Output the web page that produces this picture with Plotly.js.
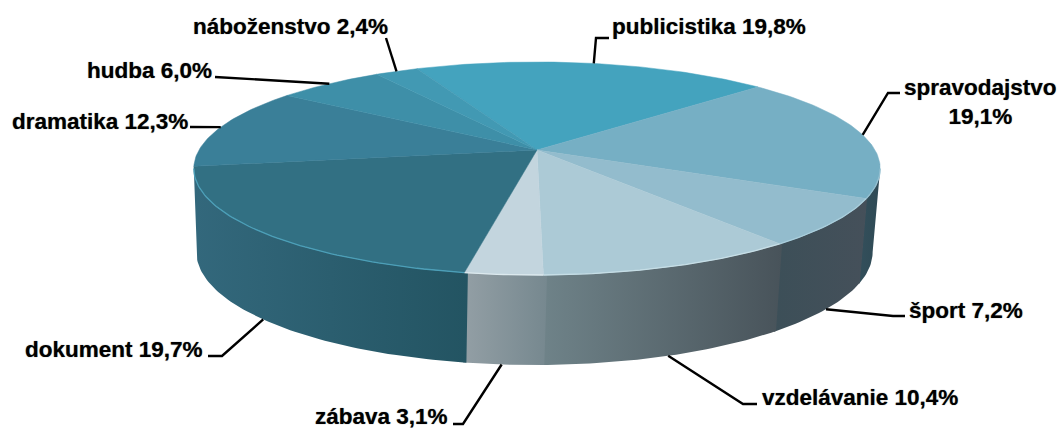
<!DOCTYPE html>
<html>
<head>
<meta charset="utf-8">
<script src="https://cdn.plot.ly/plotly-3.0.1.min.js"></script>
<style>html,body{margin:0;padding:0;background:#fff;overflow:hidden}#chart{width:1059px;height:428px}</style>
</head>
<body>
<div id="chart"></div>
<script>
// ---- data, clockwise from the first slice ----
const categories = ['publicistika','spravodajstvo','šport','vzdelávanie','zábava','dokument','dramatika','hudba','náboženstvo'];
const shares = [19.8,19.1,7.2,10.4,3.1,19.7,12.3,6.0,2.4];
const shareLabels = ['19,8%','19,1%','7,2%','10,4%','3,1%','19,7%','12,3%','6,0%','2,4%'];

// ---- styles ----
const topColors = ['#44A3BE','#76AFC4','#93BCCD','#ACCAD6','#C3D5DE','#327083','#3A7F98','#3E8FA8','#4299B3'];
const wallLeft  = ['#333','#334F5B','#3C4F58','#6F8389','#939FA5','#33687C','#33687C','#333','#333'];
const wallRight = ['#333','#2F4A55','#45505A','#48535A','#76888F','#235462','#33687C','#333','#333'];
const rimColors = ['#7FC0D4','#94BFD0','#A9CEDC','#C6DEE6','#DCE9EE','#4C9FB8','#4C9FB8','#4C9FB8','#4C9FB8'];

// ---- projection of the disc ----
const startAngle = -24.3, perspective = 0.1736;
const topFace = {x0:537, y0:150, A:338, B:103.3};
const lowFace = {x0:534.5, y0:232.4, A:333, B:109.6};
const edgeAngle = Math.acos(-perspective)*180/Math.PI;   // silhouette of the disc
function project(face, deg){
  const r = deg*Math.PI/180, c = Math.sin(r), t = -Math.cos(r), w = 1-perspective*t;
  return [face.x0+face.A*c/w, face.y0+face.B*t/w];
}
function arc(face, a, b){
  const n = Math.max(2, Math.ceil(Math.abs(b-a))), pts = [];
  for(let i=0;i<=n;i++) pts.push(project(face, a+(b-a)*i/n));
  return pts;
}

// ---- leader bends and label placement ----
const leaderBends = [[[596,38],[609,38]],[[888,93],[900,93]],[[893,316],[905,316]],[[743,404],[757,404]],
  [[463,424],[453,424]],[[222,356],[208,356]],[[190,127]],[[215,77]],[[386,38]]];
const labelPos = [[610,26,'left'],[980,102,'center'],[907,310,'left'],[760,397,'left'],[450,416,'right'],
  [205,349,'right'],[190,121,'right'],[214,70,'right'],[390,26,'right']];

const traces = [];
const base = {type:'scatter', mode:'lines', hoverinfo:'skip', showlegend:false};
const total = shares.reduce((s,v)=>s+v,0);
const spans = [];
let cur = startAngle;
shares.forEach(v=>{ const nxt = cur+v/total*360; spans.push([cur,nxt]); cur = nxt; });

// walls, each overlapping its right-hand neighbour a little so no seam shows
spans.forEach(([a,b],i)=>{
  const lo = Math.max(a-0.5,180-(edgeAngle-90)-0+(-90)+0), hi = Math.min(b,360-edgeAngle);
  const from = Math.max(a-0.5, edgeAngle);
  if(hi<=from) return;
  const pts = arc(topFace,from,hi).concat(arc(lowFace,hi,from));
  const xs = pts.map(p=>p[0]);
  traces.push(Object.assign({},base,{x:xs,y:pts.map(p=>p[1]),fill:'toself',line:{width:0},
    fillcolor:wallLeft[i],
    fillgradient:{type:'horizontal',start:Math.min(...xs),stop:Math.max(...xs),
      colorscale:[[0,wallLeft[i]],[1,wallRight[i]]]}}));
});
// top face
spans.forEach(([a,b],i)=>{
  const pts = [[topFace.x0,topFace.y0]].concat(arc(topFace,a,b));
  pts.push(pts[0]);
  traces.push(Object.assign({},base,{x:pts.map(p=>p[0]),y:pts.map(p=>p[1]),fill:'toself',
    fillcolor:topColors[i],line:{width:0.5,color:topColors[i]}}));
});
// bright rim along the front edge
spans.forEach(([a,b],i)=>{
  const lo = Math.max(a,edgeAngle), hi = Math.min(b,360-edgeAngle);
  if(hi<=lo) return;
  const pts = arc(topFace,lo,hi);
  traces.push(Object.assign({},base,{x:pts.map(p=>p[0]),y:pts.map(p=>p[1]),line:{width:1.3,color:rimColors[i]}}));
});
// leader lines and labels
const annotations = [];
spans.forEach(([a,b],i)=>{
  const mid = (a+b)/2, front = mid>90 && mid<270;
  const st = project(front?lowFace:topFace, mid);
  const pts = [st].concat(leaderBends[i]);
  traces.push(Object.assign({},base,{x:pts.map(p=>p[0]),y:pts.map(p=>p[1]),line:{width:2.4,color:'#000'}}));
  const sep = categories[i]==='spravodajstvo' ? '<br>' : ' ';
  annotations.push({x:labelPos[i][0],y:labelPos[i][1],xref:'x',yref:'y',text:categories[i]+sep+shareLabels[i],
    showarrow:false,xanchor:labelPos[i][2],yanchor:'middle',align:'center',
    font:{family:'"Liberation Sans", Arial, sans-serif',size:22.5,color:'#000',weight:700,shadow:'0 0 1px rgba(0,0,0,0.6)'}});
});

Plotly.newPlot('chart',traces,{
  width:1059,height:428,margin:{l:0,r:0,t:0,b:0},paper_bgcolor:'#fff',plot_bgcolor:'#fff',showlegend:false,hovermode:false,
  xaxis:{range:[0,1059],visible:false,fixedrange:true},
  yaxis:{range:[428,0],visible:false,fixedrange:true},
  annotations
},{displayModeBar:false,staticPlot:true});
</script>
</body>
</html>
